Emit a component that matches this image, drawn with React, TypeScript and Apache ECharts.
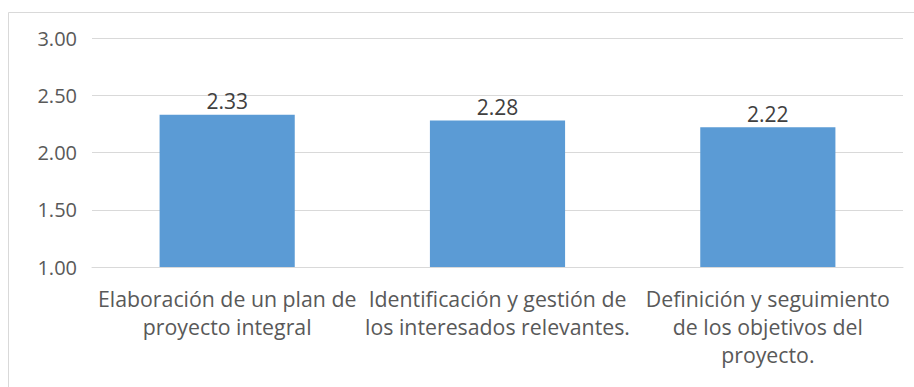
import React, { useEffect, useRef } from "react";
import * as echarts from "echarts";

const categories = [
  "Elaboración de un plan de\nproyecto integral",
  "Identificación y gestión de\nlos interesados relevantes.",
  "Definición y seguimiento\nde los objetivos del\nproyecto.",
];
const values = [2.33, 2.28, 2.22];
const yMin = 1;
const yMax = 3;
const yStep = 0.5;

export default function App() {
  const ref = useRef<HTMLDivElement>(null);
  useEffect(() => {
    const chart = echarts.init(ref.current!, null, { renderer: "svg" });
    chart.setOption({
      animation: false,
      backgroundColor: "#ffffff",
      graphic: [
        {
          type: "rect",
          shape: { x: 8.5, y: 12.5, width: 920, height: 400 },
          style: { fill: "none", stroke: "#d9d9d9", lineWidth: 1 },
          silent: true,
        },
      ],
      grid: { left: 92, right: 11, top: 38, bottom: 120, containLabel: false },
      xAxis: {
        type: "category",
        data: categories,
        axisLine: { show: true, lineStyle: { color: "#d9d9d9", width: 1 } },
        axisTick: { show: false },
        axisLabel: {
          color: "#595959",
          fontSize: 21.3,
          fontFamily: "Open Sans",
          lineHeight: 28,
          margin: 17,
          interval: 0,
        },
      },
      yAxis: {
        type: "value",
        min: yMin,
        max: yMax,
        interval: yStep,
        axisLine: { show: false },
        axisTick: { show: false },
        splitLine: { lineStyle: { color: "#d9d9d9", width: 1 } },
        axisLabel: {
          color: "#595959",
          fontSize: 20,
          fontFamily: "Open Sans",
          margin: 15,
          formatter: (v: number) => v.toFixed(2),
        },
      },
      series: [
        {
          type: "bar",
          data: values,
          barWidth: "50%",
          itemStyle: { color: "#5b9bd5" },
          label: {
            show: true,
            position: "top",
            distance: 3,
            color: "#404040",
            fontSize: 21,
            fontFamily: "Open Sans",
            formatter: (p: any) => Number(p.value).toFixed(2),
          },
        },
      ],
    });
    return () => chart.dispose();
  }, []);
  return (
    <div
      ref={ref}
      style={{ position: "fixed", left: 0, top: 0, width: 914, height: 387 }}
    />
  );
}
